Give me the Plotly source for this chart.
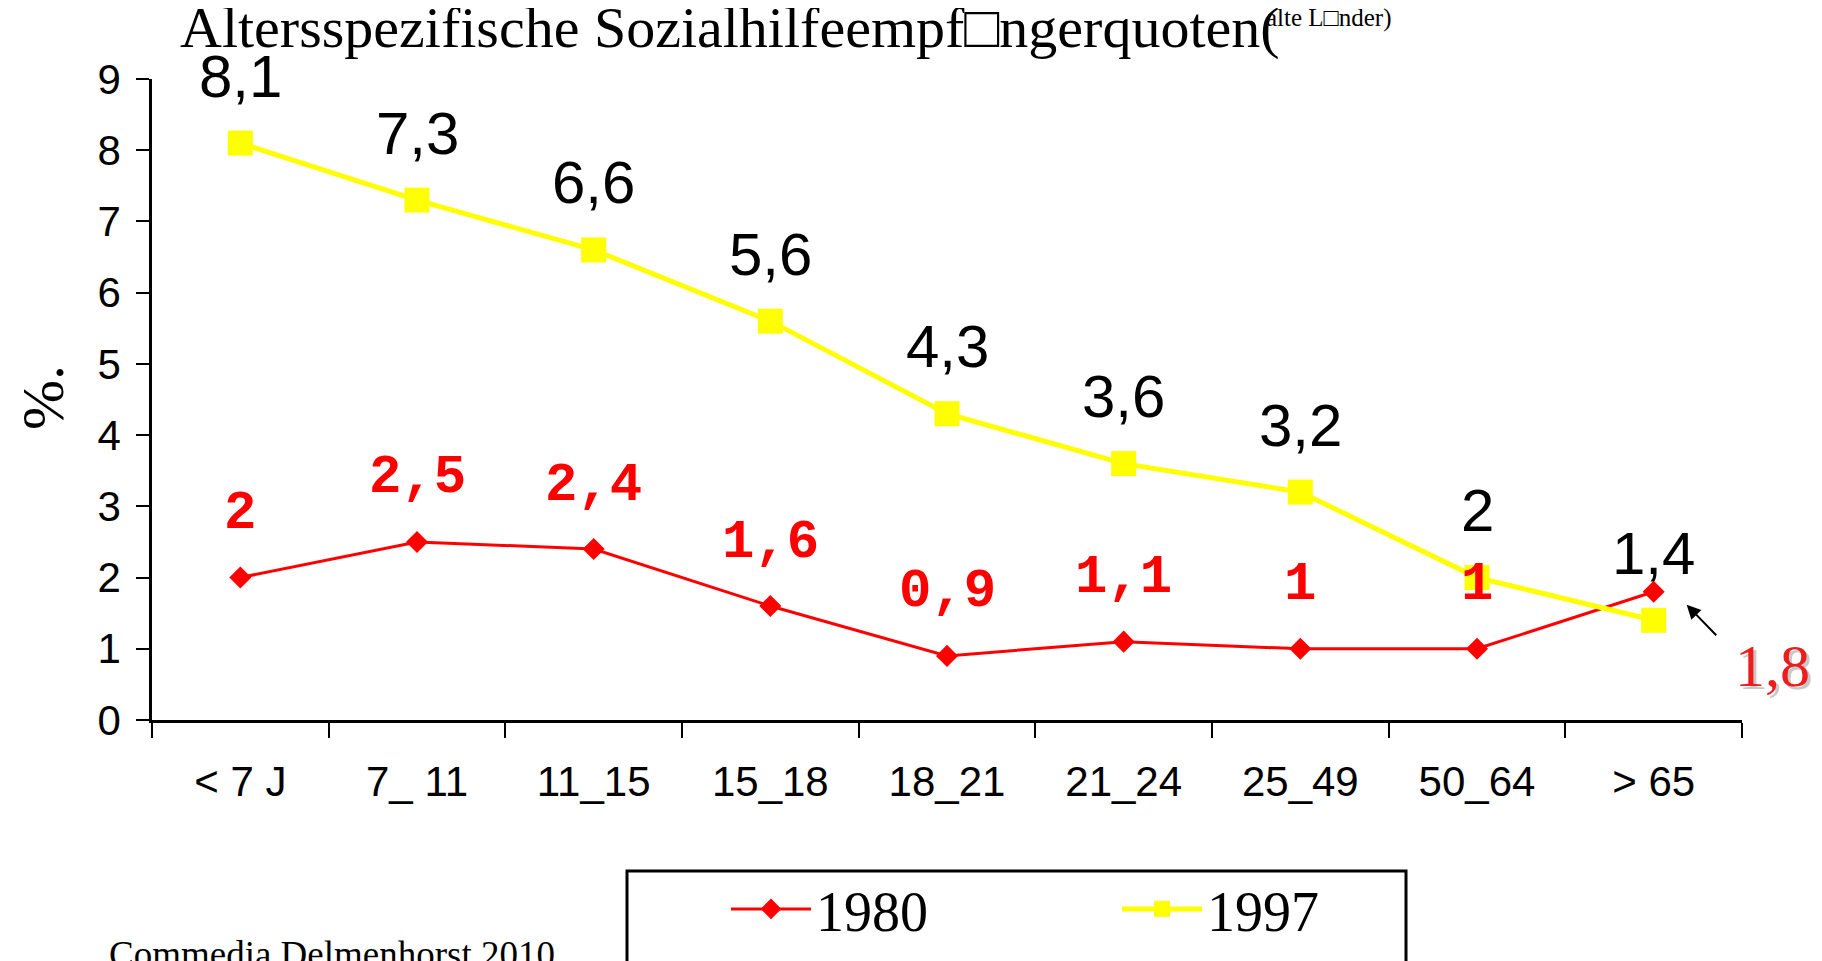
import plotly.graph_objects as go

categories = ["< 7 J", "7_ 11", "11_15", "15_18", "18_21", "21_24", "25_49", "50_64", "> 65"]
values_1980 = [2, 2.5, 2.4, 1.6, 0.9, 1.1, 1, 1, 1.8]
values_1997 = [8.1, 7.3, 6.6, 5.6, 4.3, 3.6, 3.2, 2, 1.4]
labels_1980 = ["2", "2,5", "2,4", "1,6", "0,9", "1,1", "1", "1", "1,8"]
labels_1997 = ["8,1", "7,3", "6,6", "5,6", "4,3", "3,6", "3,2", "2", "1,4"]
y_ticks = [0, 1, 2, 3, 4, 5, 6, 7, 8, 9]

OFF = 8  # default page body margin
W, H = 1822 - OFF, 961 - OFF
ML, MT = 152 - OFF, 79 - OFF
PW, PH = 1590, 641
MR = W - ML - PW
MB = H - MT - PH

def px(xp):
    # page pixel x -> paper coordinate
    return (xp - OFF - ML) / PW

def py(yp):
    # page pixel y -> paper coordinate
    return (OFF + MT + PH - yp) / PH

SERIF = "Liberation Serif"
SANS = "Liberation Sans"
MONO = "Liberation Mono"

fig = go.Figure()
fig.add_trace(go.Scatter(
    x=categories, y=values_1980, name="1980", mode="lines+markers",
    line=dict(color="#FF0000", width=3),
    marker=dict(symbol="diamond", size=17, color="#FF0000"),
))
fig.add_trace(go.Scatter(
    x=categories, y=values_1997, name="1997", mode="lines+markers",
    line=dict(color="#FFFF00", width=5),
    marker=dict(symbol="square", size=25, color="#FFFF00"),
))

ann = []
for c, v, t in zip(categories, values_1997, labels_1997):
    ann.append(dict(x=c, y=v, xref="x", yref="y", text=t, showarrow=False,
                    yanchor="middle", xanchor="center", yshift=67,
                    font=dict(family=SANS, size=60, color="black")))
for c, v, t in zip(categories[:-1], values_1980[:-1], labels_1980[:-1]):
    ann.append(dict(x=c, y=v, xref="x", yref="y", text="<b>%s</b>" % t, showarrow=False,
                    yanchor="middle", xanchor="center", yshift=64,
                    font=dict(family=MONO, size=54, color="#FF0000")))
ann.append(dict(x=categories[-1], y=values_1980[-1], xref="x", yref="y", text=labels_1980[-1],
                showarrow=False, xanchor="center", yanchor="middle", xshift=122, yshift=-77,
                font=dict(family=SERIF, size=60, color="#C8C8C8")))
ann.append(dict(x=categories[-1], y=values_1980[-1], xref="x", yref="y", text=labels_1980[-1],
                showarrow=False, xanchor="center", yanchor="middle", xshift=119, yshift=-74,
                font=dict(family=SERIF, size=60, color="#EE1C1C")))
ann.append(dict(x=categories[-1], y=values_1980[-1], xref="x", yref="y", text="",
                showarrow=True, arrowhead=2, arrowsize=1.4, arrowwidth=2, arrowcolor="black",
                ax=31, ay=32, xshift=33, yshift=-13))

ann.append(dict(x=px(178), y=py(62), xref="paper", yref="paper", xanchor="left", yanchor="bottom",
                text="Altersspezifische Sozialhilfeempf\u25a1ngerquoten(", showarrow=False,
                font=dict(family=SERIF, size=58, color="black")))
ann.append(dict(x=px(1264), y=py(34), xref="paper", yref="paper", xanchor="left", yanchor="bottom",
                text="alte L\u25a1nder)", showarrow=False,
                font=dict(family=SERIF, size=25, color="black")))
ann.append(dict(x=px(43), y=py(398), xref="paper", yref="paper", xanchor="center", yanchor="middle",
                text="%.", textangle=-90, showarrow=False,
                font=dict(family=SERIF, size=60, color="black")))
ann.append(dict(x=px(107), y=py(932), xref="paper", yref="paper", xanchor="left", yanchor="top",
                text="Commedia Delmenhorst 2010", showarrow=False,
                font=dict(family=SERIF, size=37, color="black")))

fig.update_layout(
    width=W, height=H,
    margin=dict(l=ML, r=MR, t=MT, b=MB, autoexpand=False),
    paper_bgcolor="white", plot_bgcolor="white",
    showlegend=True,
    legend=dict(orientation="h", x=px(726), y=py(866), xanchor="left", yanchor="top",
                font=dict(family=SERIF, size=56, color="black"),
                bgcolor="rgba(0,0,0,0)", borderwidth=0, itemwidth=80,
                entrywidth=296, entrywidthmode="pixels"),
    annotations=ann,
    shapes=[dict(type="rect", xref="paper", yref="paper",
                 x0=px(627), x1=px(1406), y0=py(990), y1=py(871),
                 line=dict(color="black", width=3), fillcolor="rgba(0,0,0,0)")],
    xaxis=dict(type="category", range=[-0.5, len(categories) - 0.5],
               showline=True, linecolor="black", linewidth=3, mirror=False,
               ticks="outside", tickson="boundaries", ticklen=15, tickwidth=2, tickcolor="black",
               showgrid=False, zeroline=False, ticklabelstandoff=23,
               tickfont=dict(family=SANS, size=42, color="black")),
    yaxis=dict(range=[0, 9], tickvals=y_ticks, ticktext=[str(v) for v in y_ticks],
               showline=True, linecolor="black", linewidth=2.5,
               ticks="outside", ticklen=13, tickwidth=2, tickcolor="black",
               showgrid=False, zeroline=False, ticklabelstandoff=7,
               tickfont=dict(family=SANS, size=42, color="black")),
)

fig.write_html("out.html")
